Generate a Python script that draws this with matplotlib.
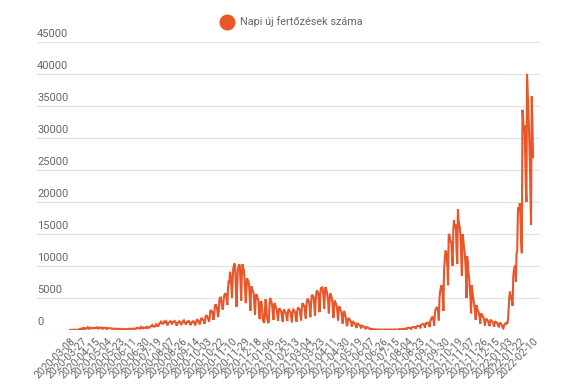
import numpy as np
import matplotlib.pyplot as plt
from matplotlib.lines import Line2D
from matplotlib import transforms

plt.rcParams['font.family'] = ['Roboto', 'DejaVu Sans']

series_name = 'Napi új fertőzések száma'

# daily new cases, 2020-03-08 .. 2022-02-10 (one day missing in late July 2021)
mar20 = [2, 4, 10, 4, 19, 41, 15, 38, 45, 29, 35, 31, 31, 59, 66, 143, 186, 144, 123, 263, 160, 308, 264, 140]
apr20 = [250, 255, 278, 420, 261, 193, 360, 270, 340, 312, 319, 253, 310, 300, 300, 342, 415, 302, 271, 365,
         248, 298, 349, 390, 332, 231, 190, 339, 340, 306]
may20 = [327, 233, 286, 190, 268, 265, 301, 284, 256, 232, 190, 211, 190, 212, 210, 181, 190, 111, 183, 191,
         130, 165, 209, 162, 104, 122, 157, 156, 137, 161, 126]
jun20 = [97, 124, 124, 152, 184, 170, 183, 152, 142, 179, 193, 216, 180, 157, 193, 214, 320, 260, 256, 331,
         285, 264, 233, 460, 323, 301, 392, 271, 314, 343]
jul20 = [422, 430, 321, 468, 374, 374, 366, 555, 614, 698, 777, 566, 566, 513, 597, 637, 889, 767, 698, 542,
         783, 1030, 1112, 1284, 1119, 1104, 871, 1151, 1356, 1295, 1182]
aug20 = [1358, 1170, 716, 1060, 1145, 1215, 1345, 1378, 1120, 881, 1215, 1232, 1350, 1415, 1237, 1051, 684,
         1001, 1060, 1298, 1365, 1302, 1067, 780, 1040, 1189, 1409, 1504, 1233, 1086, 862]
sep20 = [1060, 1311, 1365, 1339, 1360, 1089, 753, 1004, 1186, 1311, 1380, 1321, 1004, 720, 1059, 1392, 1713,
         1474, 1439, 1189, 872, 1178, 1767, 1821, 1714, 1581, 1494, 980, 1270, 2158]
oct20 = [2343, 2111, 2002, 1692, 1275, 1737, 2958, 3130, 2919, 2880, 2226, 1591, 2400, 3617, 4016, 3805, 3520,
         2879, 2031, 3062, 4848, 5028, 5080, 4360, 3716, 3202, 4305, 5343, 5595, 5753, 5460]
nov20 = [4800, 3900, 6500, 7700, 7300, 9100, 8600, 6800, 5000, 7700, 9700, 10100, 10400, 9500, 6600, 3600,
         7100, 9500, 10000, 10269, 9900, 7300, 4600, 8600, 10300, 9700, 9400, 8200, 6300, 4200]
dec20 = [6500, 8100, 7700, 7600, 6900, 4900, 3000, 6700, 6700, 6200, 6000, 5600, 4000, 2400, 5150, 5600, 5300,
         4900, 4600, 3200, 1700, 4100, 4500, 4300, 2800, 1500, 1300, 1100, 3000, 4800, 3700]
jan21 = [2000, 1600, 1200, 1300, 4200, 5000, 4600, 4400, 3700, 2700, 1600, 4000, 4200, 3700, 3500, 3100, 2300,
         1400, 3000, 3400, 3200, 3000, 2700, 2000, 1300, 2900, 3200, 3000, 2800, 2600, 1900]
feb21 = [1400, 2800, 3300, 3100, 2900, 2700, 1900, 1200, 2700, 3200, 3100, 2900, 2700, 1900, 1300, 2900, 3500,
         3400, 3300, 3100, 2200, 1500, 3500, 4200, 4000, 3800, 3700, 2700]
mar21 = [1800, 4000, 4600, 4900, 4600, 4400, 3500, 2000, 4000, 5300, 5500, 5300, 5100, 3900, 2200, 4600, 5800,
         6200, 6000, 5800, 4500, 2800, 5600, 6500, 6650, 6651, 6300, 5000, 3300, 5800, 6700]
apr21 = [6300, 6000, 5300, 4300, 2600, 4300, 5700, 5600, 5200, 4700, 3500, 1900, 3500, 4600, 4300, 4100, 3700,
         2800, 1500, 2900, 3700, 3300, 3100, 2800, 2000, 1000, 2300, 3000, 2700, 2300]
may21 = [1700, 900, 600, 1500, 1900, 1700, 1600, 1400, 1100, 500, 1200, 1300, 1150, 1050, 900, 700, 300, 1000,
         950, 900, 800, 700, 550, 250, 700, 650, 600, 520, 430, 330, 140]
jun21 = [450, 420, 380, 340, 280, 200, 70, 200, 180, 160, 140, 110, 90, 35, 100, 95, 90, 85, 70, 55, 20, 75,
         80, 70, 65, 60, 45, 20, 75, 70]
jul21 = [70, 65, 60, 40, 20, 80, 70, 75, 70, 60, 45, 25, 90, 85, 95, 90, 80, 60, 30, 110, 120, 125, 120, 110,
         45, 160, 170, 190, 180, 160]
aug21 = [200, 100, 300, 320, 350, 330, 300, 280, 150, 400, 450, 480, 470, 430, 380, 200, 550, 600, 650, 640,
         600, 500, 260, 800, 850, 900, 950, 880, 750, 350, 1100]
sep21 = [1000, 1100, 1150, 1050, 950, 450, 1400, 1600, 1900, 2000, 1800, 1500, 700, 2600, 3200, 3400, 3600,
         3300, 2800, 1500, 5000, 6000, 6600, 7000, 6800, 5500, 3000, 9500, 11000, 12300]
oct21 = [12300, 11500, 10000, 7000, 14800, 15000, 14200, 13800, 13500, 11500, 10000, 15700, 17200, 15800,
         16500, 16000, 12000, 10300, 18863, 17000, 16400, 16000, 14500, 11500, 8500, 15000, 14500, 13000, 12500,
         11000, 9000]
nov21 = [5000, 11500, 10500, 9000, 8000, 6500, 5000, 2600, 7000, 6000, 5200, 4500, 3700, 2900, 1600, 3900,
         3500, 3100, 2900, 2500, 2000, 1000, 2600, 2500, 2300, 2100, 1900, 1500, 700, 1600]
dec21 = [1700, 1650, 1500, 1250, 1000, 600, 1500, 1550, 1400, 1350, 1150, 900, 500, 1250, 1300, 1200, 1150,
         950, 800, 420, 1050, 1100, 1000, 900, 600, 350, 250, 700, 900, 1000, 950]
jan22 = [1100, 1000, 1600, 3500, 5100, 6000, 4800, 5400, 4500, 3800, 8300, 9300, 9800, 10100, 7500, 12000,
         12300, 18300, 19200, 18500, 19800, 17500, 14000, 12000, 34400, 33000, 31000, 32000, 28000, 23000, 20000]
feb22 = [40018, 37000, 34000, 31000, 27000, 22000, 16400, 36500, 33000, 27000]

tick_labels = ['2020-03-08', '2020-03-27', '2020-04-15', '2020-05-04', '2020-05-23', '2020-06-11',
               '2020-06-30', '2020-07-19', '2020-08-07', '2020-08-26', '2020-09-14', '2020-10-03',
               '2020-10-22', '2020-11-10', '2020-11-29', '2020-12-18', '2021-01-06', '2021-01-25',
               '2021-02-13', '2021-03-04', '2021-03-23', '2021-04-11', '2021-04-30', '2021-05-19',
               '2021-06-07', '2021-06-26', '2021-07-15', '2021-08-04', '2021-08-23', '2021-09-11',
               '2021-09-30', '2021-10-19', '2021-11-07', '2021-11-26', '2021-12-15', '2022-01-03',
               '2022-01-22', '2022-02-10']
tick_step = 19
y_ticks = [0, 5000, 10000, 15000, 20000, 25000, 30000, 35000, 40000, 45000]

values = np.array(mar20 + apr20 + may20 + jun20 + jul20 + aug20 + sep20 + oct20 + nov20 + dec20
                  + jan21 + feb21 + mar21 + apr21 + may21 + jun21 + jul21 + aug21 + sep21 + oct21
                  + nov21 + dec21 + jan22 + feb22)
x = np.arange(len(values))

color = '#e8562a'
grey = '#666666'

fig = plt.figure(figsize=(5.75, 3.87), dpi=100)
ax = fig.add_axes([37 / 575, 1 - 330 / 387, 503 / 575, 288 / 387])

ax.plot(x, values, color=color, linewidth=1.5, solid_joinstyle='miter')

ax.set_ylim(0, 45000)
ax.set_xlim(-50, len(values) - 1 + 10.6)

for s in ax.spines.values():
    s.set_visible(False)

ax.set_yticks(y_ticks)
ax.yaxis.grid(True, color='#e3e3e3', linewidth=0.9)
ax.set_axisbelow(True)
ax.tick_params(axis='y', length=0, labelleft=False)

# y labels sit above the gridlines, left aligned
trans = transforms.blended_transform_factory(ax.transAxes, ax.transData)
for v in y_ticks:
    ax.annotate(str(v), xy=(0, v), xycoords=trans, xytext=(0, 2.5), textcoords='offset points',
                ha='left', va='bottom', fontsize=8, color=grey)

ax.set_xticks(np.arange(0, len(values), tick_step))
ax.set_xticklabels(tick_labels, rotation=45, ha='right', rotation_mode='anchor', fontsize=7.6, color=grey)
ax.tick_params(axis='x', length=0, pad=4)

handle = Line2D([0], [0], marker='o', linestyle='', markerfacecolor=color, markeredgecolor=color,
                markersize=10.5)
fig.legend(handles=[handle], labels=[series_name], loc='center', bbox_to_anchor=(0.503, 1 - 22 / 387),
           frameon=False, fontsize=7.8, labelcolor=grey, handletextpad=0.2)

fig.savefig('out.png', dpi=100)
